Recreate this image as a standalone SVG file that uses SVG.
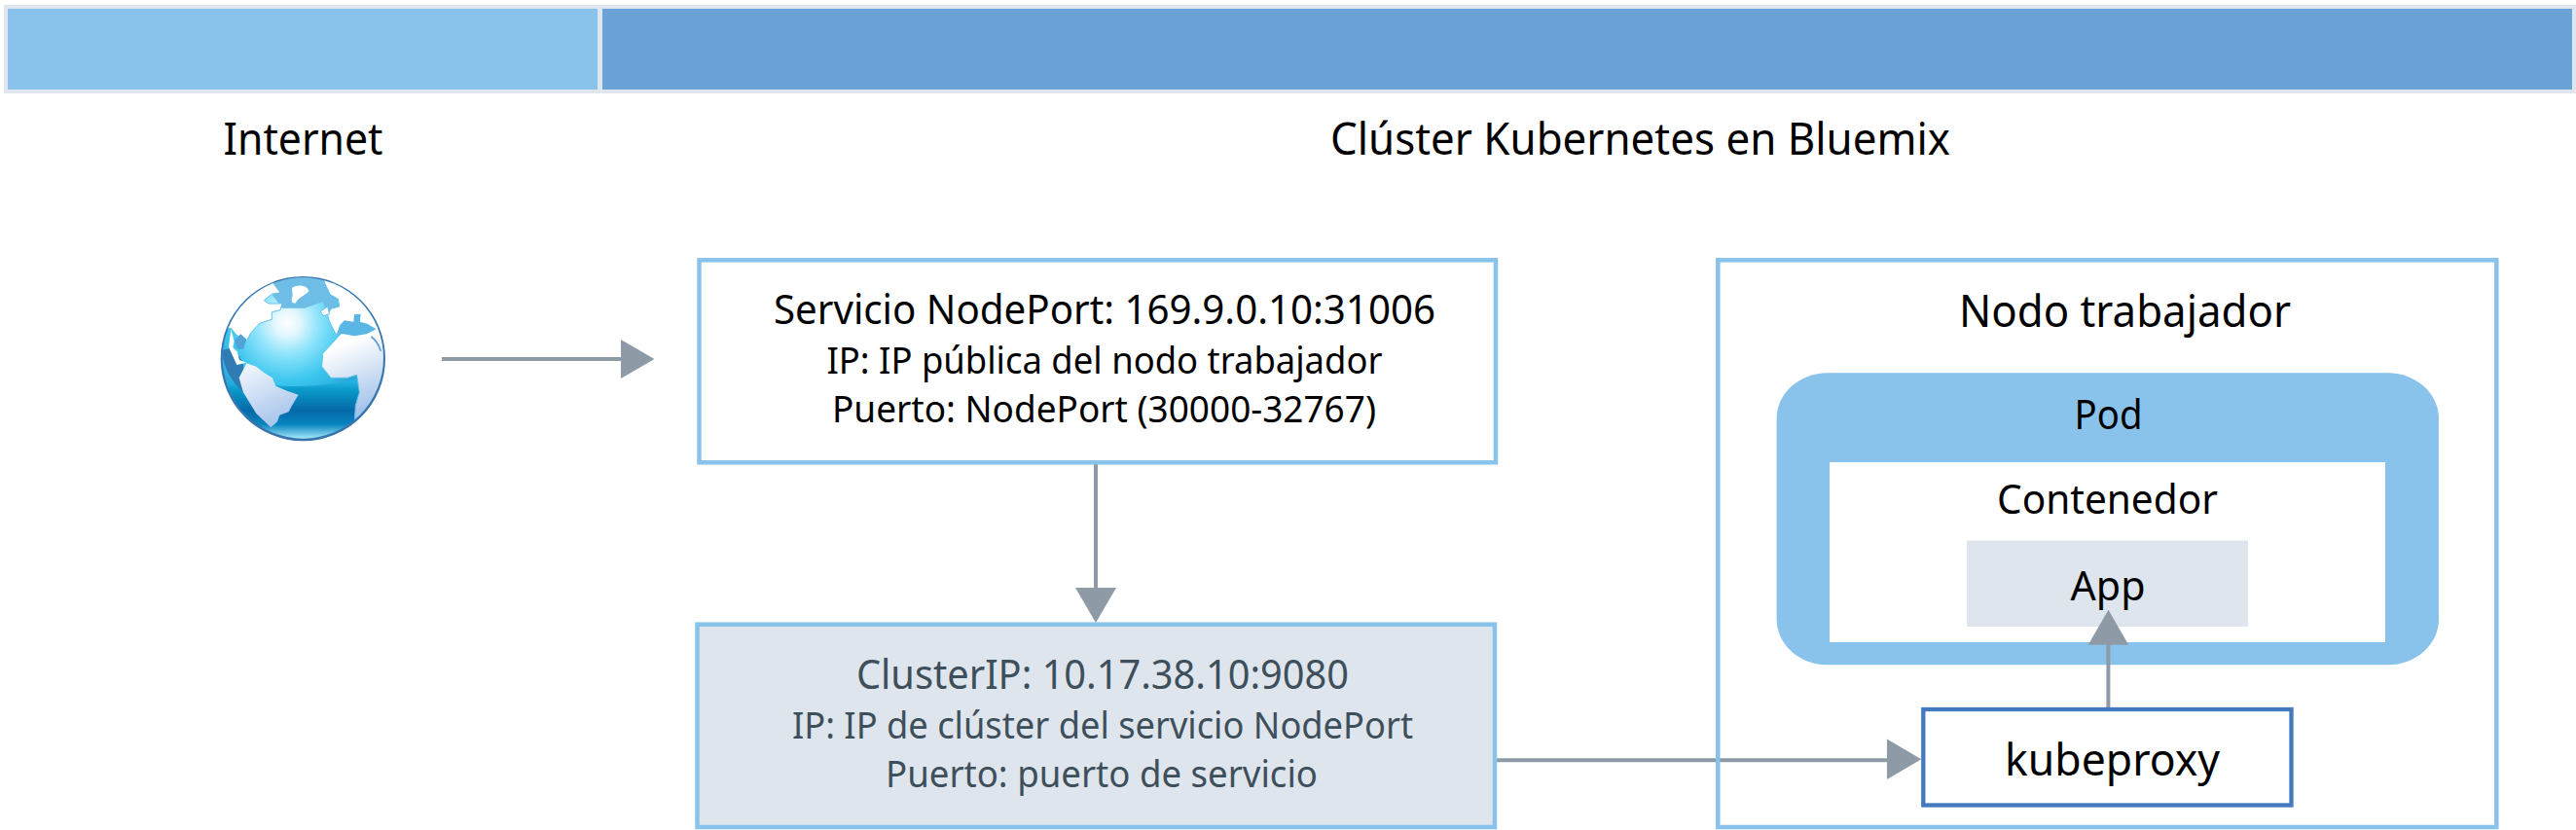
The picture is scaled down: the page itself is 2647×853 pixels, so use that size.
<svg xmlns="http://www.w3.org/2000/svg" width="2647" height="853" viewBox="0 0 2647 853">
<style>
text{font-family:"Noto Sans","Open Sans","Liberation Sans",sans-serif;text-anchor:middle;fill:#000}
.t46{font-size:46px}.t42{font-size:42px}.t38{font-size:38px}
.dim{fill:#3e4f5c}
.box{stroke:#89c2eb;stroke-width:4.5;fill:#fff}
.conn{stroke:#8e9ba6;stroke-width:4;fill:none}
.head{fill:#8e9ba6;stroke:none}
</style>
<defs>
<radialGradient id="sea" gradientUnits="userSpaceOnUse" cx="285" cy="215" r="330">
<stop offset="0" stop-color="#ffffff"/><stop offset="0.12" stop-color="#e2f7fd"/><stop offset="0.3" stop-color="#8de3fb"/><stop offset="0.55" stop-color="#3ac6ee"/><stop offset="0.8" stop-color="#2aa6d8"/><stop offset="1" stop-color="#2d7fb8"/>
</radialGradient>
<linearGradient id="deep" gradientUnits="userSpaceOnUse" x1="340" y1="400" x2="340" y2="572">
<stop offset="0" stop-color="#22b0de"/><stop offset="0.12" stop-color="#0a9bcb"/><stop offset="0.5" stop-color="#0569a8"/><stop offset="0.75" stop-color="#0a86c0"/><stop offset="1" stop-color="#a4e8fa"/>
</linearGradient>
<linearGradient id="land" gradientUnits="userSpaceOnUse" x1="300" y1="240" x2="420" y2="540"><stop offset="0.3" stop-color="#ffffff"/><stop offset="1" stop-color="#9dbfe8"/></linearGradient>
<linearGradient id="landB" gradientUnits="userSpaceOnUse" x1="170" y1="350" x2="260" y2="530"><stop offset="0" stop-color="#eef4fc"/><stop offset="1" stop-color="#a4c3eb"/></linearGradient>
<clipPath id="disc"><circle cx="334" cy="324" r="248"/></clipPath>
</defs>
<g id="header">
<rect x="4" y="5" width="2643" height="91" fill="#dfe6ed"/>
<rect x="8" y="9" width="606" height="83" fill="#89c2eb"/>
<rect x="619" y="9" width="2024" height="83" fill="#6ba3d8"/>
<text class="t46" x="311.500" y="159" textLength="164" lengthAdjust="spacingAndGlyphs">Internet</text>
<text class="t46" x="1685.500" y="159" textLength="637" lengthAdjust="spacingAndGlyphs">Clúster Kubernetes en Bluemix</text>
</g>
<g id="globe" transform="translate(200 260) scale(0.3333)">
<circle cx="334" cy="326" r="254" fill="#3a74ad"/>
<g clip-path="url(#disc)">
<rect x="80" y="70" width="510" height="510" fill="url(#sea)"/>
<path d="M130 385C230 420 400 425 560 370V590H80V420Z" fill="url(#deep)"/>
<path d="M84 300C86 350 115 400 150 430L150 340L120 290Z" fill="#2f7cb5"/>
<path d="M240 75H400L415 125L440 145L440 170L410 190L395 150L340 170L270 170L240 130Z" fill="#6dbde6"/>
<path d="M80 235L112 232L128 252L160 272L172 248L200 217L238 205L238 182L264 176L270 156L228 156L214 146L238 127L264 122L246 98L235 60L80 60Z" fill="#fff" stroke="#66c0e8" stroke-width="3"/>
<path d="M112 235L122 272L118 290L132 305L138 330L160 338L130 345L105 290Z" fill="#fff"/>
<path d="M122 270L142 250L160 266L150 296L132 296Z" fill="#4fa3d6"/>
<path d="M300 108C320 95 348 100 352 118C340 132 318 138 312 154C300 158 296 146 302 132Z" fill="#fff"/>
<path d="M137 385L160 340L190 350L215 370L240 385L250 410L285 425L320 437L300 470L290 490L262 500L255 520L235 538L190 495L150 430Z" fill="url(#landB)"/>
<path d="M395 70L402 95L418 128L442 142L446 165L420 172L410 192L416 212L435 250L450 250L395 310L392 350L420 385L470 385L500 376L508 430L496 470L492 540L600 500V70Z" fill="url(#land)" stroke="#66c0e8" stroke-width="3"/>
<path d="M438 250L448 222L462 208L490 212L492 190L512 188L510 212L532 218L560 235L530 250L492 256L460 250Z" fill="#5ab6e4"/>
<path d="M388 180L410 165L416 188L396 194Z" fill="#fff" stroke="#66c0e8" stroke-width="3"/>
<path d="M544 258C556 266 568 284 574 302" fill="none" stroke="#5a9fd6" stroke-width="5"/>
</g>
</g>
<g id="connectors">
<line class="conn" x1="454" y1="369" x2="640" y2="369"/>
<polygon class="head" points="638,349 672.500,369 638,389"/>
<line class="conn" x1="1126" y1="475" x2="1126" y2="606"/>
<polygon class="head" points="1105,604 1147,604 1126,640"/>
<line class="conn" x1="1536" y1="781.300" x2="1941" y2="781.300"/>
<polygon class="head" points="1939,759.500 1974.300,780.300 1939,801"/>
</g>
<g id="node-service">
<rect class="box" x="718.500" y="267.300" width="818.500" height="208"/>
<text class="t42" x="1135" y="333" textLength="680" lengthAdjust="spacingAndGlyphs">Servicio NodePort: 169.9.0.10:31006</text>
<text class="t38" x="1135" y="384" textLength="571" lengthAdjust="spacingAndGlyphs">IP: IP pública del nodo trabajador</text>
<text class="t38" x="1134.500" y="434" textLength="559" lengthAdjust="spacingAndGlyphs">Puerto: NodePort (30000-32767)</text>
</g>
<g id="node-clusterip">
<rect class="box" x="716.500" y="641.700" width="819.500" height="208.300" style="fill:#dfe5ec"/>
<text class="t42 dim" x="1133" y="708" textLength="506" lengthAdjust="spacingAndGlyphs">ClusterIP: 10.17.38.10:9080</text>
<text class="t38 dim" x="1133" y="759" textLength="638" lengthAdjust="spacingAndGlyphs">IP: IP de clúster del servicio NodePort</text>
<text class="t38 dim" x="1132" y="809" textLength="444" lengthAdjust="spacingAndGlyphs">Puerto: puerto de servicio</text>
</g>
<g id="node-worker">
<rect x="1765.300" y="267.300" width="800" height="582.700" fill="none" stroke="#89c2eb" stroke-width="4.500"/>
<text class="t46" x="2183.500" y="336" textLength="341" lengthAdjust="spacingAndGlyphs">Nodo trabajador</text>
</g>
<g id="node-pod">
<rect x="1825.600" y="383.300" width="680.400" height="300" rx="52" ry="47" fill="#89c2eb"/>
<text class="t42" x="2166.500" y="441" textLength="70" lengthAdjust="spacingAndGlyphs">Pod</text>
</g>
<g id="node-container">
<rect x="1880" y="475" width="571" height="185" fill="#fff"/>
<text class="t42" x="2165.500" y="528" textLength="227" lengthAdjust="spacingAndGlyphs">Contenedor</text>
</g>
<g id="node-app">
<rect x="2021" y="555.500" width="289" height="88.500" fill="#dfe5ec"/>
<text class="t42" x="2166" y="617" textLength="77" lengthAdjust="spacingAndGlyphs">App</text>
</g>
<g id="connector-app">
<line class="conn" x1="2166.400" y1="729.300" x2="2166.400" y2="660"/>
<polygon class="head" points="2145.700,662.700 2187.300,662.700 2166.500,626.700"/>
</g>
<g id="node-kubeproxy">
<rect x="1976.300" y="729" width="378.200" height="98.500" fill="#fff" stroke="#4379bf" stroke-width="4.300"/>
<text class="t46" x="2170.500" y="797" textLength="221" lengthAdjust="spacingAndGlyphs">kubeproxy</text>
</g>
</svg>
